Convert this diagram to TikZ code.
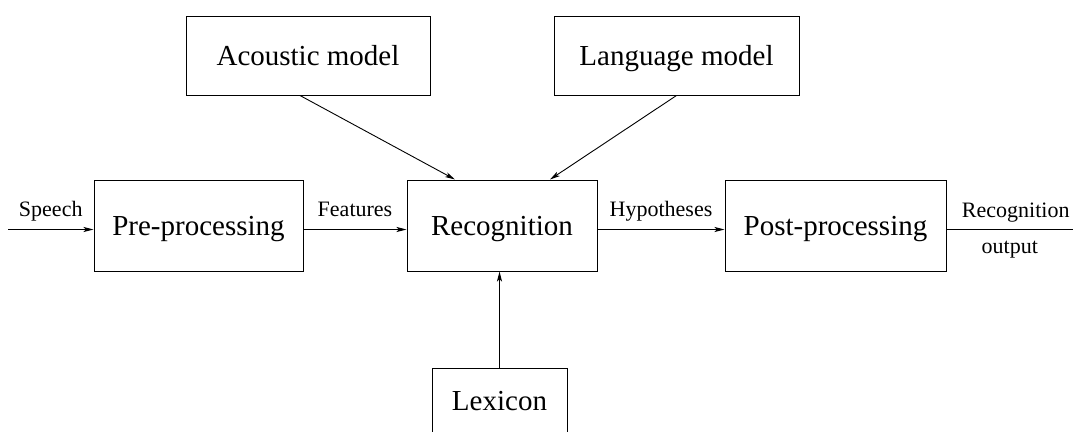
\documentclass[tikz,border=0pt]{standalone}
\usepackage{fontspec}
\setmainfont{Liberation Serif}
\usetikzlibrary{arrows.meta}
\begin{document}
\begin{tikzpicture}[x=1pt,y=-1pt,
  block/.style={draw, line width=1pt, inner sep=0pt,
    font=\fontsize{29}{34}\selectfont, text height=19.2pt, text depth=0pt},
  flow/.style={line width=0.9pt, -{Stealth[length=10pt,width=5pt,inset=2.5pt]}},
  plain/.style={line width=0.9pt},
  lbl/.style={font=\fontsize{22}{26}\selectfont, anchor=base, inner sep=0pt}]
\useasboundingbox (0,0) rectangle (1073,431);

% knowledge sources
\node[block, minimum width=244pt, minimum height=79pt] (ac)  at (308,55.5)  {Acoustic model};
\node[block, minimum width=245pt, minimum height=79pt] (lm)  at (676.5,55.5) {Language model};

% main processing chain
\node[block, minimum width=209pt, minimum height=91pt] (pre)  at (198.5,225.5) {Pre-processing};
\node[block, minimum width=190pt, minimum height=91pt] (rec)  at (502,225.5)   {Recognition};
\node[block, minimum width=221pt, minimum height=91pt] (post) at (835.5,225.5) {Post-processing};

% lexicon below the recogniser
\node[block, minimum width=135pt, minimum height=65pt] (lex) at (499.5,400.5) {Lexicon};

% free ends of the chain
\coordinate (in)  at (8,229.5);
\coordinate (out) at (1073,229.5);

% signal flow
\draw[flow] (in) -- node[lbl, yshift=13pt] {Speech} (in -| pre.west);
\draw[flow] ([yshift=-4pt]pre.east) -- node[lbl, yshift=13pt] {Features} ([yshift=-4pt]rec.west);
\draw[flow] ([yshift=-4pt]rec.east) -- node[lbl, yshift=13pt] {Hypotheses} ([yshift=-4pt]post.west);
\draw[plain] ([yshift=-4pt]post.east) -- node[lbl, yshift=12pt, xshift=6pt] {Recognition}
  node[lbl, yshift=-24pt] {output} (out);

% model inputs
\draw[flow] ([xshift=-8pt]ac.south) -- ([xshift=-47pt]rec.north);
\draw[flow] (lm.south) -- ([xshift=48pt]rec.north);
\draw[flow] (lex.north) -- (lex.north |- rec.south);
\end{tikzpicture}
\end{document}
